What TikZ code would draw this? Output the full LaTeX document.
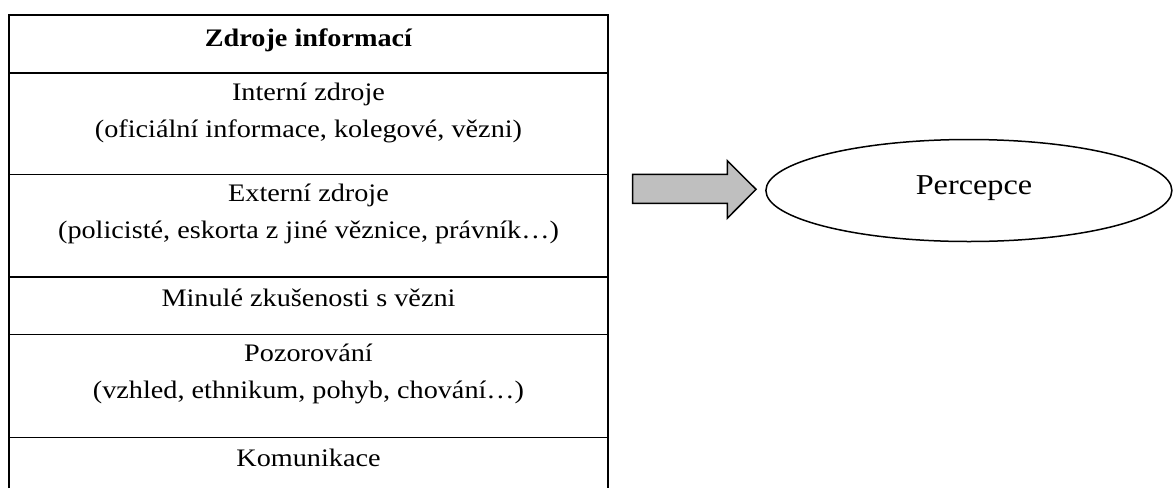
\documentclass[tikz,border=0pt]{standalone}
\usepackage{fontspec}
\setmainfont{Liberation Serif}
\newcommand{\hstretch}[1]{\scalebox{1.12}[1]{#1}}
\begin{document}
\begin{tikzpicture}[x=0.5pt,y=-0.5pt,
  cell/.style={anchor=base,inner sep=0pt,font=\fontsize{12.6pt}{15pt}\selectfont},
  grid/.style={line width=0.65pt,black},
  blockarrow/.style={line width=0.75pt,draw=black,fill=black!25,line join=miter},
  oval/.style={line width=0.75pt,draw=black}]
\useasboundingbox (0,0) rectangle (1173,488);
% table grid
\draw[grid] (9,488) -- (9,15) -- (608,15) -- (608,488);
\foreach \yy in {73,174.5,277,334.5,437.5}
  \draw[grid] (9,\yy) -- (608,\yy);
% texts
\node[cell,font=\fontsize{12.6pt}{15pt}\selectfont\bfseries] (t0) at (308.5,46.7) {\hstretch{Zdroje informací}};
\node[cell] (t1) at (308.5,100.7) {\hstretch{Interní zdroje}};
\node[cell] (t2) at (308.5,137.2) {\hstretch{(oficiální informace, kolegové, vězni)}};
\node[cell] (t3) at (308.5,201.7) {\hstretch{Externí zdroje}};
\node[cell] (t4) at (308.5,238.3) {\hstretch{(policisté, eskorta z jiné věznice, právník…)}};
\node[cell] (t5) at (308.5,306.7) {\hstretch{Minulé zkušenosti s vězni}};
\node[cell] (t6) at (308.5,361.7) {\hstretch{Pozorování}};
\node[cell] (t7) at (308.5,398.3) {\hstretch{(vzhled, ethnikum, pohyb, chování…)}};
\node[cell] (t8) at (308.5,466) {\hstretch{Komunikace}};
% arrow
\coordinate (a0) at (632.7,174.3);
\coordinate (tip) at (756,189.3);
\draw[blockarrow] (a0) -- (727.3,174.3) -- (727.3,160.7) -- (tip) -- (727.3,218.3) -- (727.3,203.3) -- (632.7,203.3) -- cycle;
% ellipse
\coordinate (pc) at (968.9,190.5);
\draw[oval] (pc) ellipse [x radius=203, y radius=51];
\node[cell,font=\fontsize{14.4pt}{17pt}\selectfont] (perc) at (974,194.3) {\hstretch{Percepce}};
\end{tikzpicture}
\end{document}
